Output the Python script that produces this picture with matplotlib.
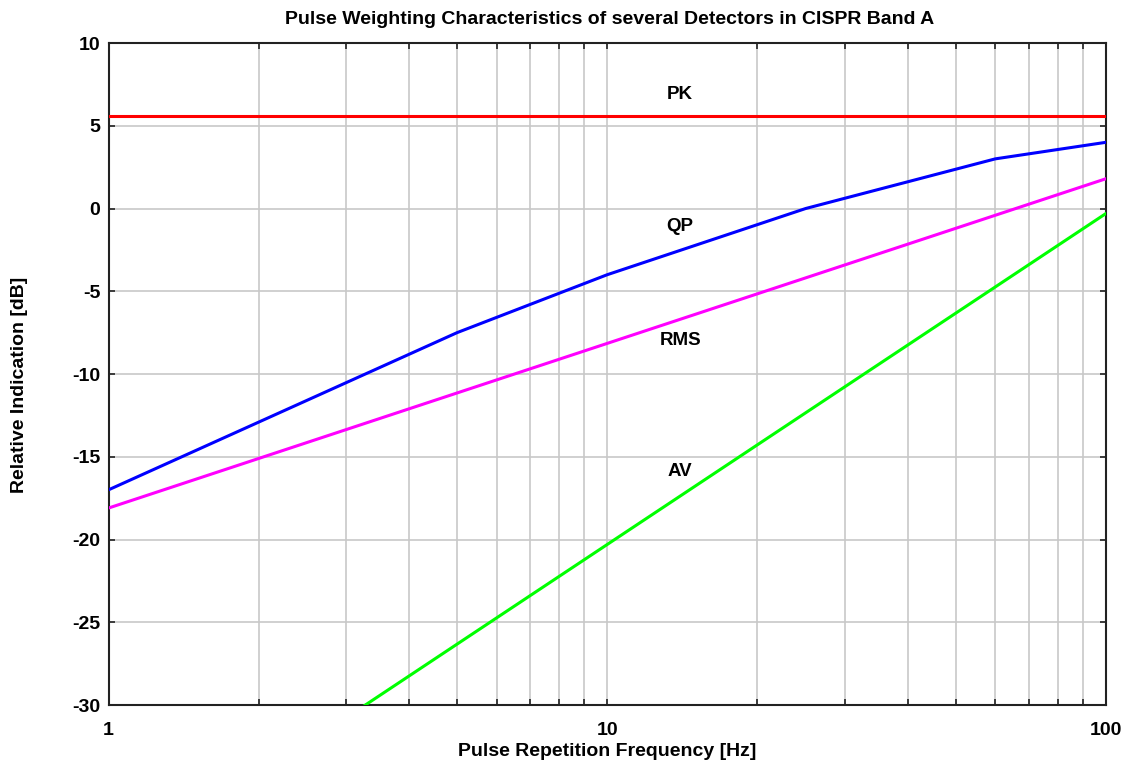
import numpy as np
import matplotlib.pyplot as plt
from matplotlib.ticker import LogLocator, FixedLocator, FixedFormatter, NullFormatter

plt.rcParams['font.family'] = ['Liberation Sans', 'DejaVu Sans']
plt.rcParams['font.weight'] = 'bold'
plt.rcParams['axes.unicode_minus'] = False

# detector curves (frequency in Hz, indication in dB)
pk_freq = [1, 100]
pk_db = [5.6, 5.6]

qp_freq = [1, 5, 10, 25, 60, 100]
qp_db = [-17.0, -7.5, -4.0, 0.0, 3.0, 4.0]

rms_freq = [1, 100]
rms_db = [-18.1, 1.8]

av_freq = [1, 100]
av_db = [-40.3, -0.3]

labels = ["PK", "QP", "RMS", "AV"]
label_y = [6.9, -1.1, -8.0, -15.9]
label_x = 14.0

yticks = [-30, -25, -20, -15, -10, -5, 0, 5, 10]
xticks = [1, 10, 100]

W, H = 1131, 767
fig = plt.figure(figsize=(W / 100, H / 100), dpi=100)
ax = fig.add_axes([108.5 / W, 1 - 705 / H, (1106 - 108.5) / W, (705 - 43) / H])

ax.plot(pk_freq, pk_db, color='#ff0000', lw=2.2, zorder=3)
ax.plot(qp_freq, qp_db, color='#0000ff', lw=2.2, zorder=3)
ax.plot(rms_freq, rms_db, color='#ff00ff', lw=2.2, zorder=3)
ax.plot(av_freq, av_db, color='#00ff00', lw=2.2, zorder=3)

for name, y in zip(labels, label_y):
    ax.text(label_x, y, name, ha='center', va='center', fontsize=13.5, fontweight='bold')

ax.set_xscale('log')
ax.set_xlim(1, 100)
ax.set_ylim(-30, 10)
ax.xaxis.set_major_locator(FixedLocator(xticks))
ax.xaxis.set_major_formatter(FixedFormatter([str(v) for v in xticks]))
ax.xaxis.set_minor_locator(LogLocator(base=10, subs=np.arange(2, 10)))
ax.xaxis.set_minor_formatter(NullFormatter())
ax.set_yticks(yticks)

ax.grid(True, which='both', color='#c8c8c8', lw=1.2)
ax.set_axisbelow(True)
ax.tick_params(which='both', direction='in', top=True, right=True, length=4,
               width=1.2, labelsize=14, color='#222222')
ax.tick_params(axis='x', which='major', pad=12)
ax.tick_params(axis='y', which='major', pad=6)
for lab in ax.get_xticklabels() + ax.get_yticklabels():
    lab.set_fontweight('bold')
for sp in ax.spines.values():
    sp.set_linewidth(1.5)
    sp.set_color('#222222')

fig.text(610 / W, 1 - 20 / H, "Pulse Weighting Characteristics of several Detectors in CISPR Band A",
         ha='center', va='center', fontsize=14, fontweight='bold')
fig.text(607 / W, 1 - 752 / H, "Pulse Repetition Frequency [Hz]",
         ha='center', va='center', fontsize=14, fontweight='bold')
fig.text(20 / W, 1 - 385 / H, "Relative Indication [dB]", rotation=90,
         ha='center', va='center', fontsize=14, fontweight='bold')

fig.savefig('out.png', dpi=100)
